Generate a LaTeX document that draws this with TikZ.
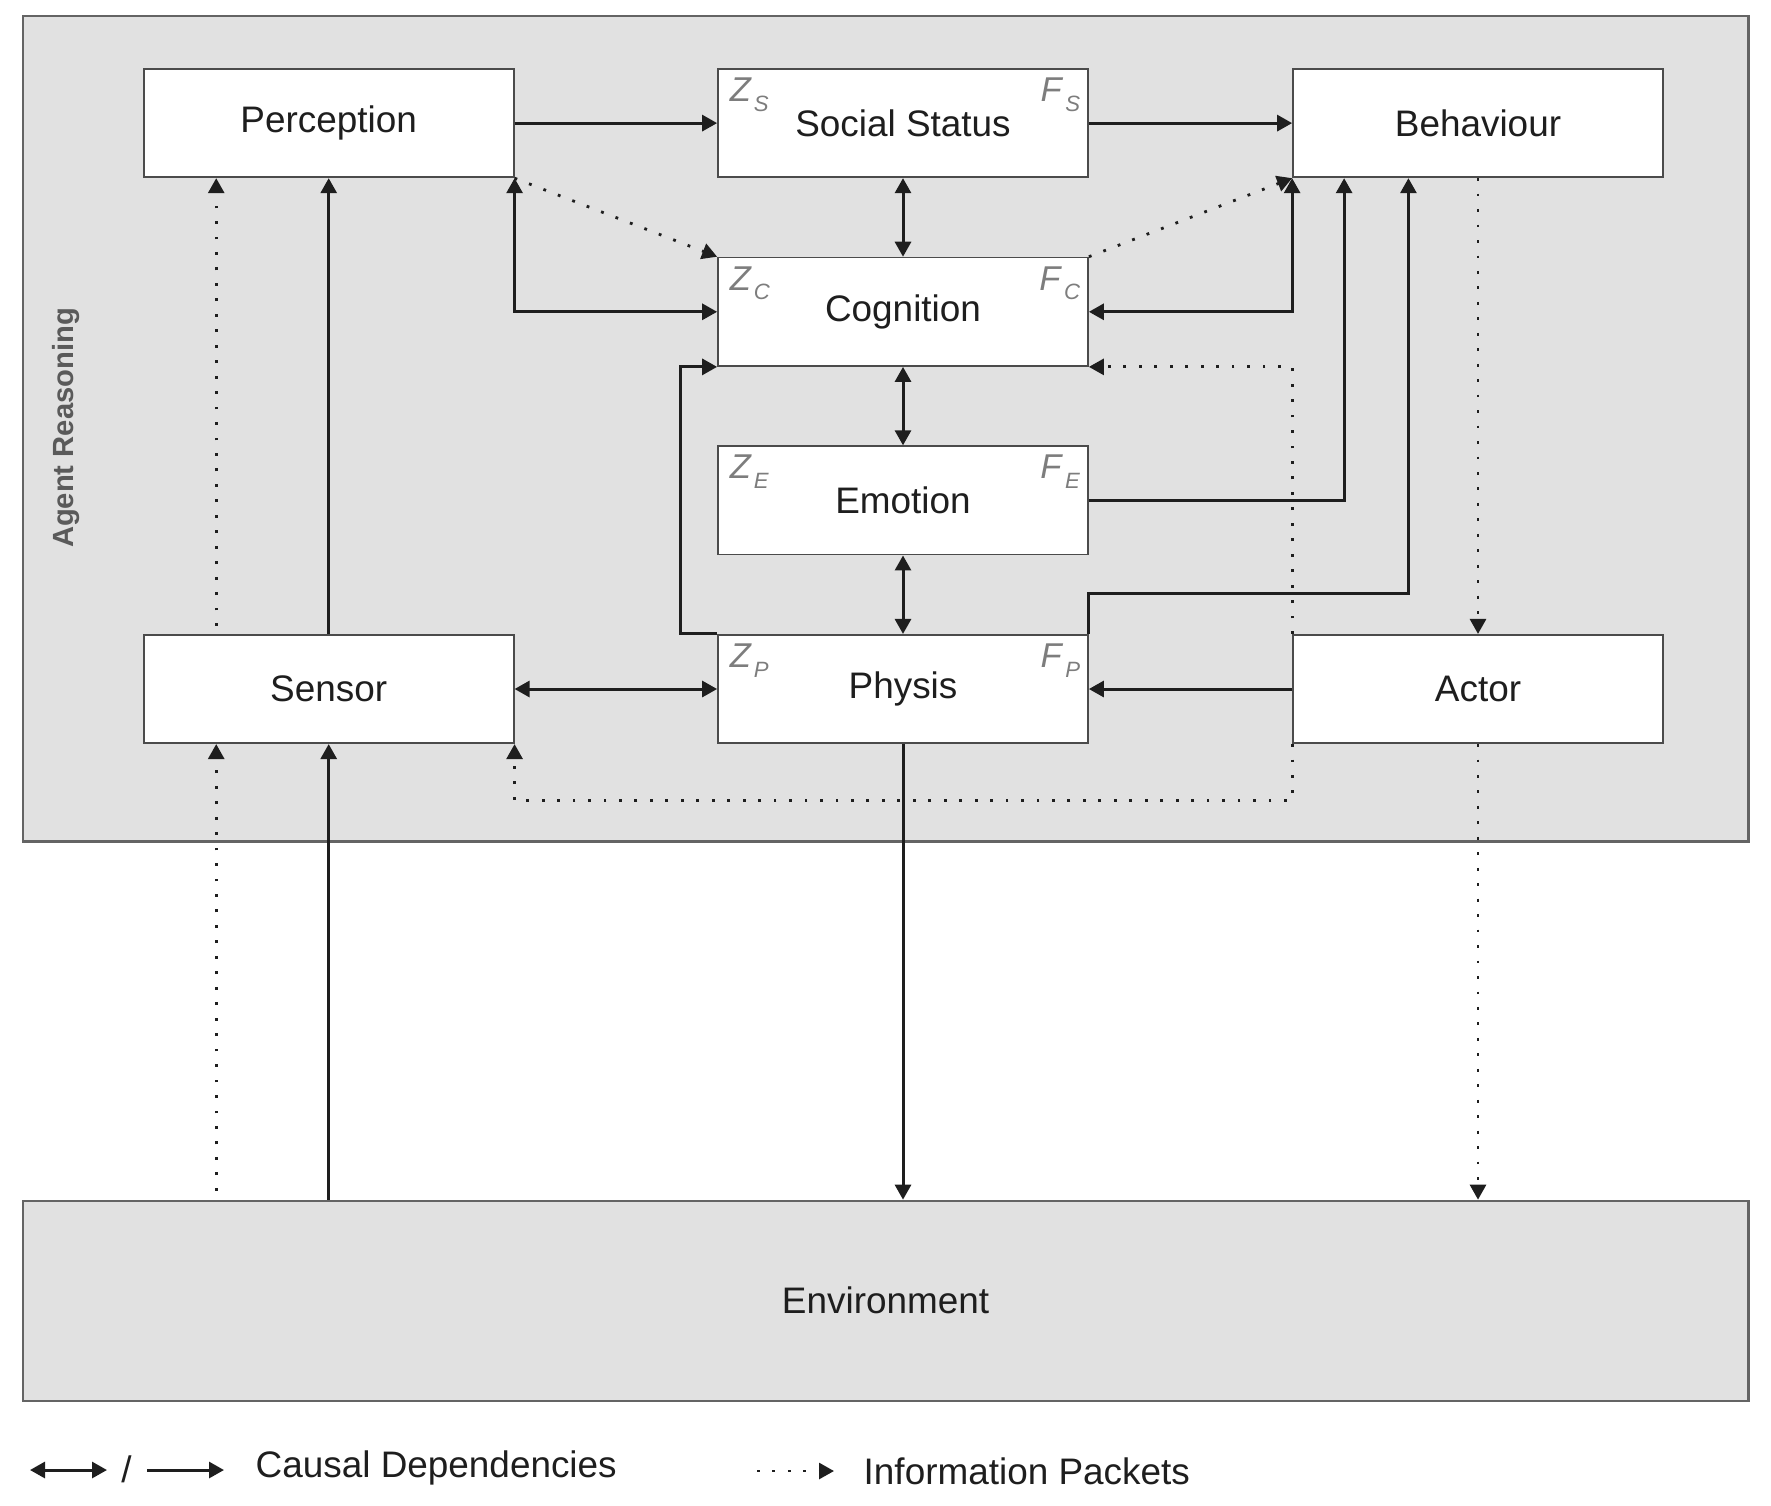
\documentclass[tikz,border=0pt]{standalone}
\usepackage{fontspec}
\setmainfont{Liberation Sans}
\usepackage{xcolor}
\usetikzlibrary{arrows.meta, positioning, calc}
\definecolor{bggray}{RGB}{225,225,225}
\definecolor{linegray}{RGB}{30,30,30}
\definecolor{framegray}{RGB}{100,100,100}
\definecolor{subgray}{RGB}{125,125,125}
\newcommand{\zsub}[2]{\textit{#1}\raisebox{-2.8pt}{\fontsize{6.3}{7}\selectfont\kern0.6pt\textit{#2}}}
\tikzset{
  box/.style={draw=linegray!80, line width=0.5pt, fill=white, minimum width=37mm, minimum height=10.84mm, inner sep=0pt, font=\fontsize{10.5}{12}\selectfont, text=linegray},
  area/.style={draw=framegray, line width=0.6pt, fill=bggray, inner sep=0pt, font=\fontsize{10.5}{12}\selectfont, text=linegray},
  cd/.style={-{Triangle[length=1.5mm,width=1.6mm]}, line width=0.85pt, draw=linegray},
  cdd/.style={{Triangle[length=1.5mm,width=1.6mm]}-{Triangle[length=1.5mm,width=1.6mm]}, line width=0.85pt, draw=linegray},
  ip/.style={-{Triangle[length=1.5mm,width=1.6mm]}, line width=0.8pt, dash pattern=on 0.8pt off 3.6pt, draw=linegray},
  corner/.style={inner sep=0pt, text=subgray, font=\fontsize{9.8}{11}\selectfont},
  legend/.style={inner sep=0pt, font=\fontsize{10.5}{12}\selectfont, text=linegray}
}
\begin{document}
\begin{tikzpicture}[x=0.1mm, y=-0.1mm]
\useasboundingbox (0,0) rectangle (1771,1505);
\node[area, minimum width=172.59mm, minimum height=82.57mm] (agent) at (885.55,428.65) {};
\node[area, minimum width=172.59mm, minimum height=19.99mm] (env) at (885.55,1300.65) {Environment};
\node[rotate=90, inner sep=0pt, text=framegray!90!black, font=\bfseries\fontsize{8.3}{10}\selectfont] (agentlbl) at (66,428) {Agent Reasoning};

\node[box] (per) at (328.7,123.1) {Perception};
\node[box] (soc) at (903,123.1) {Social Status};
\node[box] (beh) at (1478,123.1) {Behaviour};
\node[box] (cog) at (903,311.8) {Cognition};
\node[box] (emo) at (903,500.4) {Emotion};
\node[box] (sen) at (328.7,689) {Sensor};
\node[box] (phy) at (903,689) {Physis};
\node[box] (act) at (1478,689) {Actor};

\foreach \b/\s in {soc/S, cog/C, emo/E, phy/P} {
    \node[corner, anchor=north west] (z\s) at ([shift={(12,9)}]\b.north west) {\zsub{Z}{\s}};
    \node[corner, anchor=north east] (f\s) at ([shift={(-8,9)}]\b.north east) {\zsub{F}{\s}};
}

\draw[cd] (per) -- (soc);
\draw[cd] (soc) -- (beh);
\draw[cdd] (soc) -- (cog);
\draw[cdd] (cog) -- (emo);
\draw[cdd] (emo) -- (phy);
\draw[cdd] (per.south east) |- (cog.west);
\draw[cdd] (beh.south west) |- (cog.east);
\draw[cd] (emo.east) -| ([shift={(52,0)}]beh.south west);
\draw[cd] (phy.north east) -- ++(0,-40.3) -| ([shift={(116.3,0)}]beh.south west);
\draw[cd] (phy.north west) -- ++(-36.8,0) |- (cog.south west);
\draw[cd] (act) -- (phy);
\draw[cdd] (sen) -- (phy);
\draw[cd] (sen) -- (per);
\draw[cd] (phy.south) -- (phy.south |- env.north);
\draw[cd] (sen.south |- env.north) -- (sen.south);

\coordinate (senL) at ([shift={(73.4,0)}]sen.south west);
\draw[ip] (per.south east) -- (cog.north west);
\draw[ip] (cog.north east) -- (beh.south west);
\draw[ip] (act.north west) |- (cog.south east);
\draw[ip] (act.south west) -- ++(0,56.5) -| (sen.south east);
\draw[ip] ($(senL |- sen.north)+(0,-8)$) -- (senL |- per.south);
\draw[ip] ($(senL |- env.north)+(0,-9)$) -- (senL);
\draw[ip] (beh) -- (act);
\draw[ip] (act) -- (act.south |- env.north);

\coordinate (lga) at (30,1470);
\coordinate (lgb) at (107,1470);
\coordinate (lgc) at (147,1470);
\coordinate (lgd) at (224,1470);
\coordinate (lge) at (757,1471);
\coordinate (lgf) at (834,1471);
\draw[cdd] (lga) -- (lgb);
\node[legend] (slash) at (126.5,1469) {/};
\draw[cd] (lgc) -- (lgd);
\node[legend, anchor=west] (lcd) at (255,1468) {Causal Dependencies};
\draw[ip] (lge) -- (lgf);
\node[legend, anchor=west] (lip) at (863,1471) {Information Packets};
\end{tikzpicture}
\end{document}
